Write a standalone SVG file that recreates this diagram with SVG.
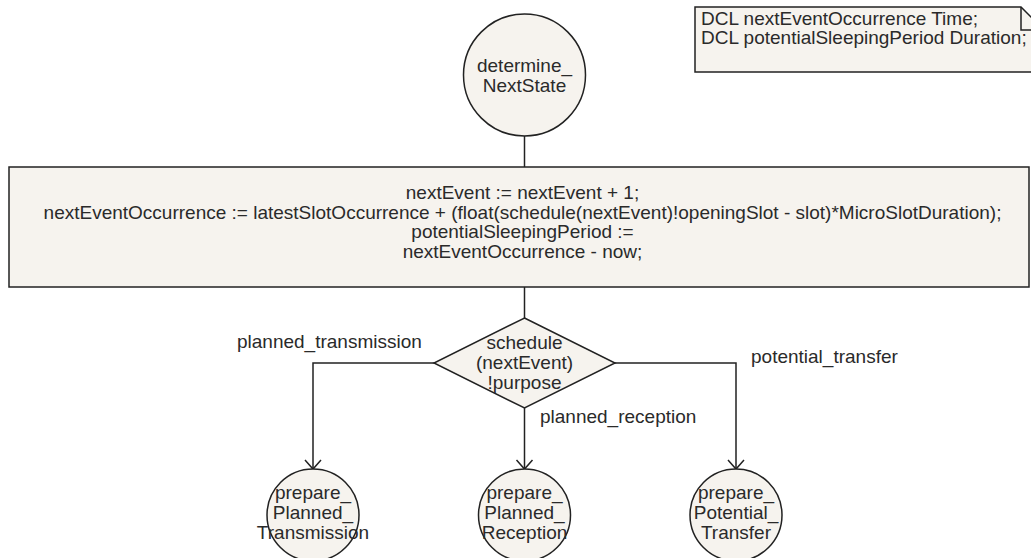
<svg xmlns="http://www.w3.org/2000/svg" width="1031" height="558" viewBox="0 0 1031 558">
  <defs>
    <style>
      .shape { fill: #f6f3ee; stroke: #222; stroke-width: 1.5; }
      .conn { fill: none; stroke: #222; stroke-width: 1.5; }
      text { font-family: "Liberation Sans", Arial, sans-serif; font-size: 19px; fill: #2a2a2a; }
      .c { text-anchor: middle; }
    </style>
    <marker id="arrow" viewBox="-11 -10 13 20" markerWidth="13" markerHeight="20" refX="0" refY="0" orient="auto" markerUnits="userSpaceOnUse">
      <path d="M -9,-8 L 0,0 L -9,8" fill="none" stroke="#222" stroke-width="1.5"/>
    </marker>
  </defs>

  <rect width="1031" height="558" fill="#ffffff"/>

  <!-- declarations note with folded corner -->
  <g id="note-dcl">
    <path class="shape" d="M 695,7 L 1021,7 L 1044,30 L 1044,72 L 695,72 Z"/>
    <path class="conn" d="M 1021,7 L 1021,30 L 1044,30"/>
    <text x="701" y="25">DCL nextEventOccurrence Time;</text>
    <text x="701" y="44">DCL potentialSleepingPeriod Duration;</text>
  </g>

  <!-- connectors -->
  <g id="connectors">
    <path class="conn" d="M 524.5,136 L 524.5,167"/>
    <path class="conn" d="M 524.5,287 L 524.5,318"/>
    <path class="conn" d="M 434,363 L 313,363 L 313,469" marker-end="url(#arrow)"/>
    <path class="conn" d="M 524.5,408 L 524.5,469" marker-end="url(#arrow)"/>
    <path class="conn" d="M 615,363 L 736,363 L 736,469" marker-end="url(#arrow)"/>
    <text x="237" y="348">planned_transmission</text>
    <text x="540" y="423">planned_reception</text>
    <text x="751" y="363">potential_transfer</text>
  </g>

  <g id="start-determine-NextState">
    <circle class="shape" cx="524.5" cy="75" r="61"/>
    <text class="c" x="524.5" y="72">determine_</text>
    <text class="c" x="524.5" y="92">NextState</text>
  </g>

  <g id="task-compute-next-event">
    <rect class="shape" x="9" y="167" width="1020" height="120"/>
    <text class="c" x="522.5" y="199">nextEvent := nextEvent + 1;</text>
    <text class="c" x="522.5" y="218.5">nextEventOccurrence := latestSlotOccurrence + (float(schedule(nextEvent)!openingSlot - slot)*MicroSlotDuration);</text>
    <text class="c" x="522.5" y="238">potentialSleepingPeriod :=</text>
    <text class="c" x="522.5" y="257.5">nextEventOccurrence - now;</text>
  </g>

  <g id="decision-purpose">
    <path class="shape" d="M 524.5,318 L 615,363 L 524.5,408 L 434,363 Z"/>
    <text class="c" x="524.5" y="349">schedule</text>
    <text class="c" x="524.5" y="369">(nextEvent)</text>
    <text class="c" x="524.5" y="389">!purpose</text>
  </g>

  <g id="state-prepare-Planned-Transmission">
    <circle class="shape" cx="313" cy="515" r="46"/>
    <text class="c" x="313" y="499">prepare_</text>
    <text class="c" x="313" y="519">Planned_</text>
    <text class="c" x="313" y="539">Transmission</text>
  </g>

  <g id="state-prepare-Planned-Reception">
    <circle class="shape" cx="524.5" cy="515" r="46"/>
    <text class="c" x="524.5" y="499">prepare_</text>
    <text class="c" x="524.5" y="519">Planned_</text>
    <text class="c" x="524.5" y="539">Reception</text>
  </g>

  <g id="state-prepare-Potential-Transfer">
    <circle class="shape" cx="736" cy="515" r="46"/>
    <text class="c" x="736" y="499">prepare_</text>
    <text class="c" x="736" y="519">Potential_</text>
    <text class="c" x="736" y="539">Transfer</text>
  </g>
</svg>
